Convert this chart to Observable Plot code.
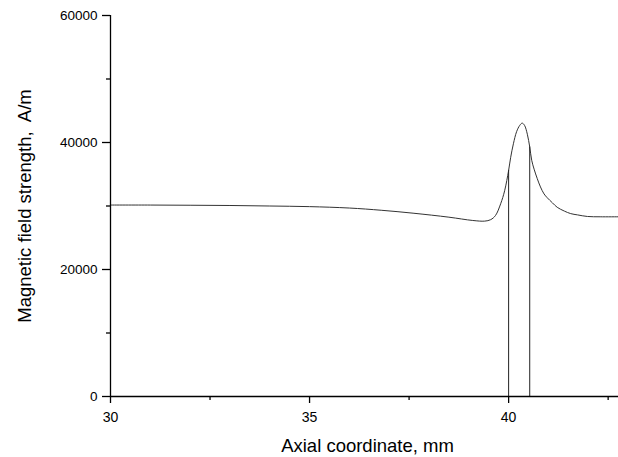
<!DOCTYPE html>
<html>
<head>
<meta charset="utf-8">
<script src="https://cdn.jsdelivr.net/npm/d3@7"></script>
<script src="https://cdn.jsdelivr.net/npm/@observablehq/plot@0.6"></script>
<style>
  html, body { margin: 0; padding: 0; background: #fff; }
  svg { font-family: "Liberation Sans", Arial, sans-serif; }
</style>
</head>
<body>
<div id="chart"></div>
<script>
// Axial coordinate (mm) and magnetic field strength (A/m)
const axial = [30, 31, 32, 33, 34, 35, 36, 36.8, 37.6, 38.5, 39.1, 39.4, 39.55, 39.67, 39.8, 39.9, 40.0, 40.05, 40.12, 40.2, 40.28, 40.34, 40.4, 40.47, 40.53, 40.58, 40.64, 40.72, 40.8, 40.89, 40.97, 41.1, 41.22, 41.4, 41.56, 41.73, 41.98, 42.3, 42.76];
const field = [30150, 30150, 30120, 30080, 30000, 29900, 29680, 29330, 28870, 28240, 27720, 27620, 27850, 28500, 30350, 32400, 35600, 37600, 39800, 41700, 42700, 43050, 42700, 41300, 39300, 37200, 35800, 34300, 33000, 31900, 31300, 30500, 29800, 29200, 28800, 28600, 28350, 28300, 28300];

// vertical markers
const markerX = [40.0, 40.53];
const markerY = [35600, 39300];

const xMajor = [30, 35, 40];
const xMinor = [32.5, 37.5, 42.5];
const yMajor = [0, 20000, 40000, 60000];
const yMinor = [10000, 30000, 50000];

const xLabel = "Axial coordinate, mm";
const yLabel = "Magnetic field strength,  A/m";

const data = axial.map((x, i) => ({x, y: field[i]}));
const markers = markerX.map((x, i) => ({x, y: markerY[i]}));

const chart = Plot.plot({
  width: 618,
  height: 457,
  marginLeft: 110,
  marginRight: 0,
  marginTop: 15,
  marginBottom: 61,
  style: {fontFamily: "'Liberation Sans', Arial, sans-serif", fontSize: "14px", background: "#fff", overflow: "visible"},
  x: {domain: [30, 42.76]},
  y: {domain: [0, 60000]},
  marks: [
    Plot.line(data, {x: "x", y: "y", stroke: "#333", strokeWidth: 1, curve: "catmull-rom"}),
    Plot.ruleX(markers, {x: "x", y1: 0, y2: "y", stroke: "#222", strokeWidth: 1}),
    Plot.ruleX([30], {stroke: "#000", strokeWidth: 1.3}),
    Plot.ruleY([0], {stroke: "#000", strokeWidth: 1.3}),
    Plot.axisX(xMajor, {tickSize: 7, tickPadding: 9, fontSize: 14, label: null, stroke: "#000", strokeWidth: 1.3, fill: "#000", tickFormat: d => String(d)}),
    Plot.axisX(xMinor, {tickSize: 4, text: null, label: null, stroke: "#000", strokeWidth: 1.3}),
    Plot.axisY(yMajor, {tickSize: 8, tickPadding: 5, fontSize: 13.5, label: null, stroke: "#000", strokeWidth: 1.3, fill: "#000", tickFormat: d => String(d)}),
    Plot.axisY(yMinor, {tickSize: 4, text: null, label: null, stroke: "#000", strokeWidth: 1.3}),
    Plot.text([xLabel], {frameAnchor: "bottom", dx: 3, dy: 55, lineAnchor: "bottom", textAnchor: "middle", fontSize: 18.5, fill: "#000", text: d => d}),
    Plot.text([yLabel], {frameAnchor: "left", dx: -80, rotate: -90, lineAnchor: "bottom", textAnchor: "middle", fontSize: 18.5, fill: "#000", text: d => d})
  ]
});
document.getElementById("chart").appendChild(chart);
</script>
</body>
</html>
